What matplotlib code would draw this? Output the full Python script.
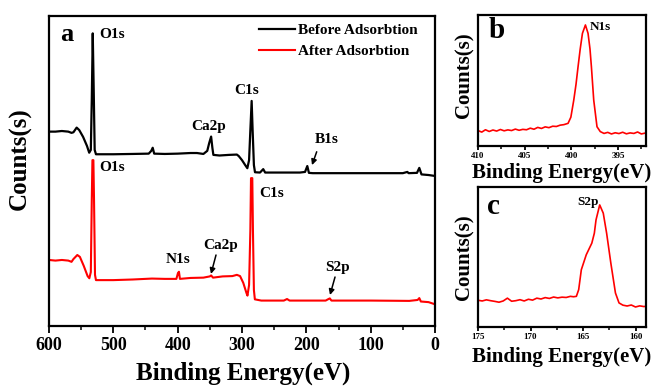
import matplotlib
matplotlib.use("Agg")
import matplotlib.pyplot as plt
from matplotlib.ticker import MultipleLocator

plt.rcParams['font.family'] = ['Liberation Serif', 'DejaVu Serif']
plt.rcParams['font.weight'] = 'bold'

# ---------------- data ----------------
# panel a: survey spectra (binding energy eV, relative counts)
before_x = [600, 590, 580, 570, 565, 562, 557, 553, 547, 541, 537.5, 535, 533.5, 532, 530.5, 529, 527,
            500, 470, 445, 441, 438.8, 436.5, 420, 400, 380, 370, 360, 354, 351, 348, 346, 344.5, 335,
            320, 308, 305, 300, 295, 291.7, 289, 287, 285, 283.5, 281.5, 279.8, 272, 267, 264, 250, 210,
            202, 198.5, 196, 190, 150, 100, 50, 43, 41, 28, 24.4, 21, 10, 0]
before_y = [62.7, 62.7, 62.9, 62.7, 62.3, 62.5, 64.0, 63.2, 61.0, 58.1, 55.9, 56.8, 72.9, 94.4, 76.1, 56.8, 55.4,
            55.4, 55.5, 55.6, 56.5, 57.5, 55.6, 55.5, 55.6, 55.8, 55.8, 55.5, 56.5, 59.0, 61.1, 57.4, 55.2, 55.0,
            55.2, 55.3, 54.8, 53.5, 51.9, 50.9, 53.5, 63.2, 72.6, 63.2, 51.9, 49.6, 49.5, 50.6, 49.5, 49.5, 49.5,
            49.7, 51.6, 49.4, 49.3, 49.3, 49.3, 49.3, 49.7, 49.3, 49.4, 51.0, 48.9, 48.7, 48.4]

after_x = [600, 590, 580, 570, 565, 562, 556, 552, 546, 540, 537.3, 535, 533.5, 532.5, 531, 530, 528.5, 527,
           500, 470, 440, 420, 402, 399.5, 398, 396.5, 380, 360, 350, 348, 345, 330, 315, 308, 303, 298,
           293, 291.5, 289, 287, 286, 284, 283, 281.5, 280, 270, 235, 230, 226, 170, 165.5, 163.5, 161,
           100, 40, 27, 24.4, 22, 10, 0]
after_y = [21.3, 21.1, 21.3, 21.1, 20.7, 21.6, 22.9, 22.3, 19.4, 16.1, 15.4, 17.4, 40.6, 53.5, 53.5, 40.6, 16.5, 14.8,
           14.8, 15.0, 15.3, 15.2, 15.2, 17.1, 17.5, 15.2, 15.5, 15.6, 16.0, 16.3, 15.6, 16.0, 16.1, 16.5, 16.1, 13.9,
           10.6, 9.8, 13.2, 31.0, 47.7, 47.7, 31.0, 11.6, 8.6, 8.2, 8.2, 8.7, 8.2, 8.2, 8.7, 8.9, 8.2,
           8.2, 8.1, 8.4, 9.0, 7.9, 7.7, 7.0]

# panel b: N1s high-resolution
n1s_x = [410, 409.6, 409.2, 408.8, 408.4, 408.0, 407.6, 407.2, 406.8, 406.4, 406.0, 405.6, 405.2, 404.8,
         404.4, 404.0, 403.6, 403.2, 402.8, 402.4, 402.0, 401.6, 401.2, 400.8, 400.35, 400.05, 399.74, 399.5,
         399.28, 399.05, 398.81, 398.49, 398.21, 398.0, 397.85, 397.6, 397.25, 396.9, 396.5, 396.1, 395.7,
         395.3, 394.9, 394.5, 394.1, 393.7, 393.3, 392.9, 392.5, 392.0]
n1s_y = [11.8, 10.6, 12.4, 11.1, 12.2, 11.4, 12.6, 11.6, 12.3, 11.8, 12.9, 12.0, 12.7, 12.4,
         13.6, 12.8, 14.2, 13.4, 14.6, 14.0, 15.1, 14.9, 15.9, 16.3, 17.3, 22.0, 35.0, 47.0,
         60.5, 74.0, 86.0, 92.4, 86.0, 74.0, 60.5, 35.0, 14.7, 11.0, 9.6, 10.4, 9.2,
         10.1, 9.5, 10.5, 9.3, 10.0, 9.6, 10.7, 9.2, 10.0]

# panel c: S2p high-resolution
s2p_x = [175, 174.6, 174.2, 173.8, 173.4, 173.0, 172.6, 172.2, 171.8, 171.4, 171.0, 170.6, 170.2, 169.8,
         169.4, 169.0, 168.6, 168.2, 167.8, 167.4, 167.0, 166.6, 166.2, 165.9, 165.63, 165.41, 165.16, 164.69,
         164.16, 163.92, 163.76, 163.41, 163.07, 162.75, 162.35, 161.91, 161.57, 161.2, 160.8,
         160.4, 160.0, 159.6, 159.2, 159.0]
s2p_y = [19.1, 18.6, 19.4, 18.8, 18.3, 17.7, 18.6, 20.6, 18.4, 18.8, 19.5, 18.6, 19.8, 19.2,
         20.6, 20.0, 21.0, 20.4, 21.4, 20.8, 21.3, 21.1, 21.9, 21.6, 21.9, 26.7, 40.9, 51.6,
         59.9, 67.0, 76.5, 87.2, 81.3, 67.0, 45.7, 24.3, 17.2, 15.6, 15.0,
         15.7, 14.3, 15.1, 14.6, 14.8]

ticks_a = [600, 500, 400, 300, 200, 100, 0]
ticks_b = [410, 405, 400, 395]
ticks_c = [175, 170, 165, 160]

# ---------------- figure ----------------
W, H = 654, 387
fig = plt.figure(figsize=(W / 100, H / 100), dpi=100)

def box(l, t, r, b):
    return [l / W, 1 - b / H, (r - l) / W, (b - t) / H]

def style(ax, major, minor, lab, maj_len, min_len, pad):
    for s in ax.spines.values():
        s.set_linewidth(1.6)
    ax.set_yticks([])
    ax.xaxis.set_major_locator(MultipleLocator(major))
    ax.xaxis.set_minor_locator(MultipleLocator(minor))
    ax.tick_params(axis='x', which='major', direction='out', length=maj_len, width=1.3,
                   labelsize=lab, pad=pad)
    ax.tick_params(axis='x', which='minor', direction='out', length=min_len, width=1.1)
    for t in ax.get_xticklabels():
        t.set_fontweight('bold')

# panel a
axa = fig.add_axes(box(49, 16, 435, 326))
axa.plot(before_x, before_y, color='black', lw=1.6, label='Before Adsorbtion')
axa.plot(after_x, after_y, color='red', lw=1.5, label='After Adsorbtion')
axa.set_xlim(600, 0)
axa.set_ylim(0, 100)
style(axa, 100, 50, 13, 5, 3, 3)
axa.set_xticks(ticks_a)
axa.legend(loc='upper left', bbox_to_anchor=(0.544, 0.975), frameon=False, borderpad=0,
           borderaxespad=0, handlelength=2.35, handletextpad=0.2, labelspacing=0.45,
           prop={'family': 'Liberation Serif', 'weight': 'bold', 'size': 11})
axa.text(0.046, 0.94, 'a', transform=axa.transAxes, ha='center', va='center',
         fontsize=19, fontweight='bold')
fs = 11
axa.text(522.3, 93.9, 'O1s', ha='left', va='center', fontsize=fs, fontweight='bold')
axa.text(292.7, 76.1, 'C1s', ha='center', va='center', fontsize=fs, fontweight='bold')
axa.text(351.3, 64.2, 'Ca2p', ha='center', va='center', fontsize=fs, fontweight='bold')
axa.text(167.9, 60.0, 'B1s', ha='center', va='center', fontsize=fs, fontweight='bold')
axa.text(522.3, 51.0, 'O1s', ha='left', va='center', fontsize=fs, fontweight='bold')
axa.text(253.3, 42.9, 'C1s', ha='center', va='center', fontsize=fs, fontweight='bold')
axa.text(399.5, 21.3, 'N1s', ha='center', va='center', fontsize=fs, fontweight='bold')
axa.text(332.6, 26.1, 'Ca2p', ha='center', va='center', fontsize=fs, fontweight='bold')
axa.text(152.3, 19.0, 'S2p', ha='center', va='center', fontsize=fs, fontweight='bold')
arr = dict(arrowstyle='-|>', color='black', lw=1.1, mutation_scale=8, shrinkA=0, shrinkB=0)
axa.annotate('', xy=(191.2, 51.9), xytext=(183.9, 56.2), arrowprops=arr)
axa.annotate('', xy=(348.2, 16.8), xytext=(340.4, 22.9), arrowprops=arr)
axa.annotate('', xy=(163.2, 10.0), xytext=(155.4, 15.8), arrowprops=arr)
fig.text(20 / W, 1 - 159 / H, 'Counts(s)', rotation=90, ha='center', va='center',
         fontsize=18, fontweight='bold')
fig.text(243 / W, 1 - 373 / H, 'Binding Energy(eV)', ha='center', va='center',
         fontsize=18, fontweight='bold')

# panel b
axb = fig.add_axes(box(478, 15, 646, 146))
axb.plot(n1s_x, n1s_y, color='red', lw=1.2)
axb.set_xlim(410, 392)
axb.set_ylim(0, 100)
style(axb, 5, 2.5, 6.5, 3, 2, 1.5)
axb.set_xticks(ticks_b)
axb.text(0.11, 0.88, 'b', transform=axb.transAxes, ha='center', va='center',
         fontsize=21, fontweight='bold')
axb.text(396.9, 91.0, 'N1s', ha='center', va='center', fontsize=9.5, fontweight='bold')
fig.text(464 / W, 1 - 75 / H, 'Counts(s)', rotation=90, ha='center', va='center',
         fontsize=15, fontweight='bold')
fig.text(562 / W, 1 - 173 / H, 'Binding Energy(eV)', ha='center', va='center',
         fontsize=15, fontweight='bold')

# panel c
axc = fig.add_axes(box(478, 187, 646, 327))
axc.plot(s2p_x, s2p_y, color='red', lw=1.2)
axc.set_xlim(175, 159)
axc.set_ylim(0, 100)
style(axc, 5, 2.5, 6.5, 3, 2, 1.5)
axc.set_xticks(ticks_c)
axc.text(0.09, 0.86, 'c', transform=axc.transAxes, ha='center', va='center',
         fontsize=21, fontweight='bold')
axc.text(164.5, 89.0, 'S2p', ha='center', va='center', fontsize=9.5, fontweight='bold')
fig.text(464 / W, 1 - 257 / H, 'Counts(s)', rotation=90, ha='center', va='center',
         fontsize=15, fontweight='bold')
fig.text(562 / W, 1 - 357 / H, 'Binding Energy(eV)', ha='center', va='center',
         fontsize=15, fontweight='bold')

fig.savefig('out.png', dpi=100)
